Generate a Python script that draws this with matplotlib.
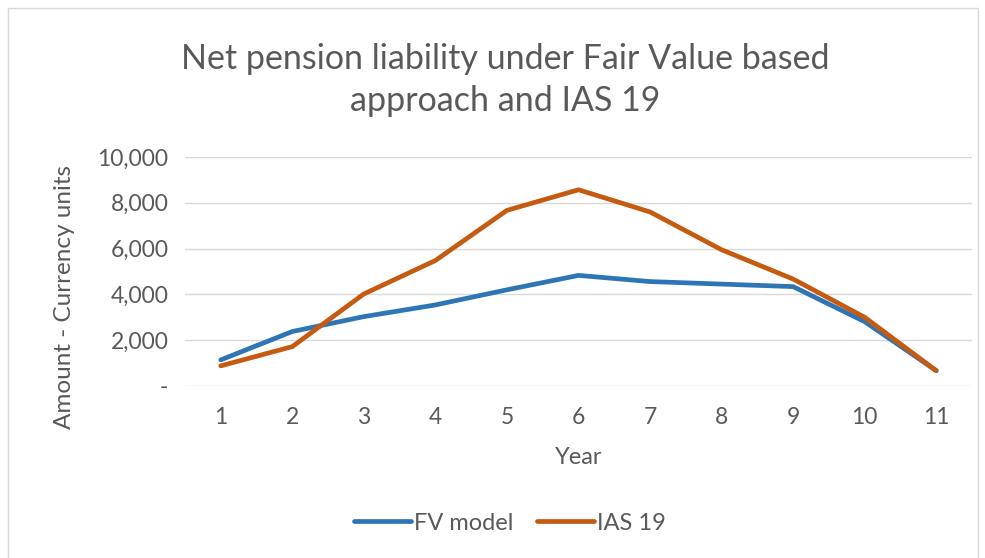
import matplotlib.pyplot as plt
from matplotlib.patches import Rectangle
from matplotlib.ticker import FuncFormatter

# ── Chart data ────────────────────────────────────────────────────────────────
years = [1, 2, 3, 4, 5, 6, 7, 8, 9, 10, 11]
fv_model = [1140, 2380, 3030, 3540, 4200, 4830, 4560, 4450, 4340, 2810, 670]
ias_19 = [880, 1720, 4020, 5480, 7670, 8570, 7600, 5950, 4670, 3000, 670]
y_ticks = [0, 2000, 4000, 6000, 8000, 10000]

TEXT = "#595959"
plt.rcParams["font.family"] = ["Lato", "DejaVu Sans"]


def _fmt(v, _pos):
    return "-" if v == 0 else f"{v:,.0f}"


fig = plt.figure(figsize=(9.85, 5.58), dpi=100)
fig.patches.append(Rectangle((8 / 985, -0.01), 970 / 985, 1.0 - 8 / 558 + 0.01,
                             transform=fig.transFigure, fill=False,
                             edgecolor="#D9D9D9", linewidth=1.0))

ax = fig.add_axes([185 / 985, 1 - 386 / 558, (972 - 185) / 985, (386 - 157) / 558])
ax.plot(years, fv_model, color="#2E75B6", linewidth=3.4, label="FV model",
        solid_capstyle="round", solid_joinstyle="round")
ax.plot(years, ias_19, color="#C55A11", linewidth=3.4, label="IAS 19",
        solid_capstyle="round", solid_joinstyle="round")

ax.set_xlim(0.5, 11.5)
ax.set_ylim(0, 10000)
ax.set_xticks(years)
ax.set_yticks(y_ticks)
ax.yaxis.set_major_formatter(FuncFormatter(_fmt))
ax.tick_params(length=0, labelsize=16.5, labelcolor=TEXT)
ax.tick_params(axis="x", pad=15)
ax.tick_params(axis="y", pad=12)
ax.grid(axis="y", color="#D9D9D9", linewidth=1.0)
ax.set_axisbelow(True)
for s in ax.spines.values():
    s.set_visible(False)

ax.set_xlabel("Year", fontsize=17, color=TEXT, labelpad=14)
ax.set_ylabel("Amount - Currency units", fontsize=17.5, color=TEXT)
ax.yaxis.set_label_coords(-0.14, 0.39)

fig.text(505 / 985, 1 - 80 / 558,
         "Net pension liability under Fair Value based\napproach and IAS 19",
         ha="center", va="center", fontsize=24.5, color=TEXT, linespacing=1.4)

fig.legend(loc="center", bbox_to_anchor=(510 / 985, 1 - 523 / 558), ncol=2,
           frameon=False, fontsize=17, labelcolor=TEXT, handlelength=2.4,
           handletextpad=0.15, columnspacing=1.0)

fig.savefig("out.png", dpi=100)
